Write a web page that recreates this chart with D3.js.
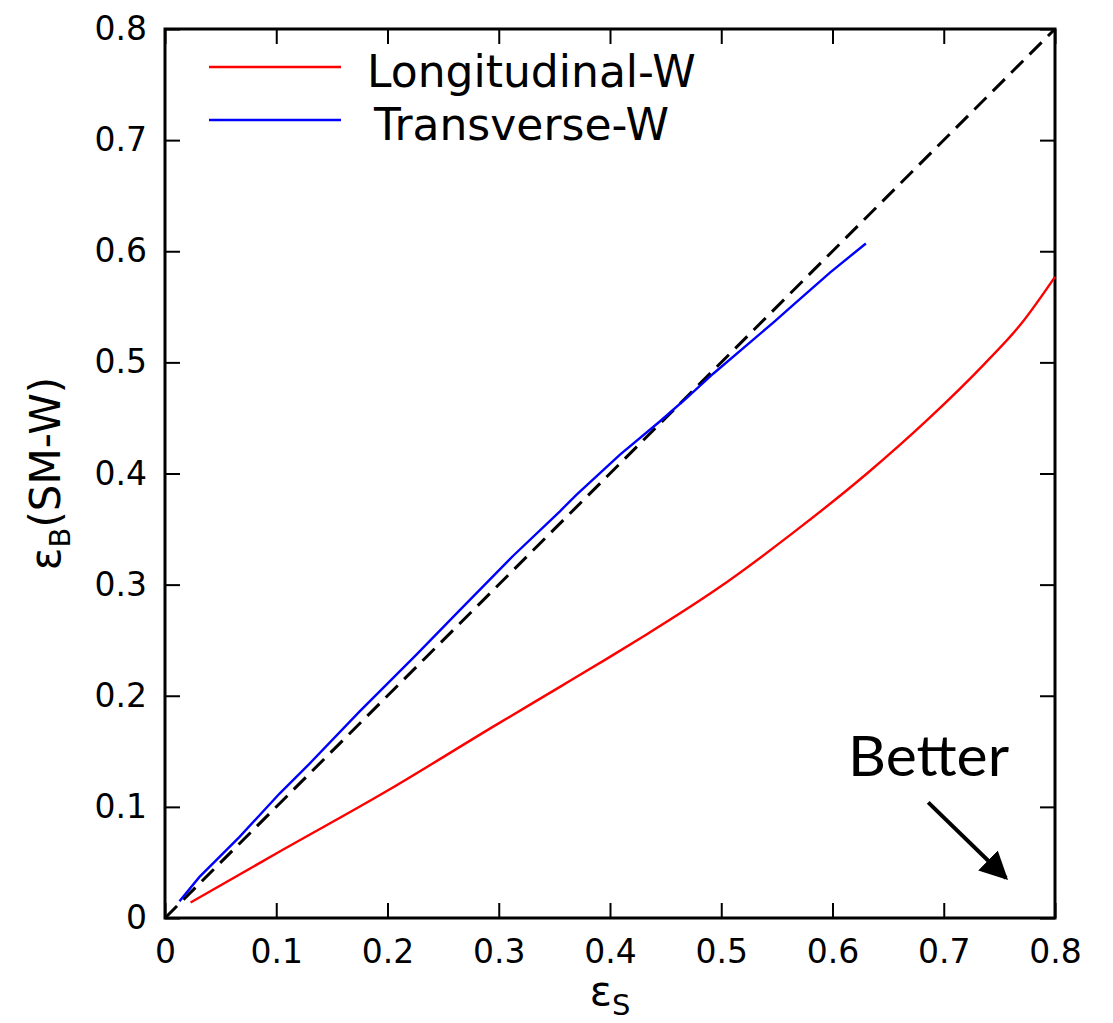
<!DOCTYPE html>
<html>
<head>
<meta charset="utf-8">
<script src="https://cdn.jsdelivr.net/npm/d3@7"></script>
<style>
  body { margin: 0; background: #fff; }
  svg text { font-family: "DejaVu Sans", sans-serif; fill: #000; }
</style>
</head>
<body>
<div id="chart"></div>
<script>
// values (signal eff. vs background eff.)
var longX = [0.023, 0.100, 0.199, 0.298, 0.355, 0.400, 0.431, 0.496, 0.565, 0.631, 0.685, 0.736, 0.769, 0.800];
var longY = [0.014, 0.058, 0.114, 0.174, 0.208, 0.235, 0.254, 0.296, 0.347, 0.400, 0.448, 0.498, 0.534, 0.577];

var transX = [0.013, 0.031, 0.067, 0.103, 0.130, 0.175, 0.226, 0.265, 0.313, 0.355, 0.370, 0.409, 0.445, 0.470, 0.493, 0.547, 0.565, 0.598, 0.630];
var transY = [0.015, 0.037, 0.073, 0.112, 0.139, 0.186, 0.237, 0.277, 0.326, 0.366, 0.381, 0.417, 0.447, 0.469, 0.490, 0.536, 0.552, 0.581, 0.607];

var diagX = [0, 0.8];
var diagY = [0, 0.8];

var tickVals = [0, 0.1, 0.2, 0.3, 0.4, 0.5, 0.6, 0.7, 0.8];
var tickLabels = ["0", "0.1", "0.2", "0.3", "0.4", "0.5", "0.6", "0.7", "0.8"];

var seriesNames = ["Longitudinal-W", "Transverse-W"];
var seriesColors = ["#ff0000", "#0000ff"];

var width = 1113, height = 1023;
var margin = {left: 165, top: 29, right: 58, bottom: 105};
var w = width - margin.left - margin.right;
var h = height - margin.top - margin.bottom;

var svg = d3.select("#chart").append("svg")
    .attr("width", width)
    .attr("height", height);

var g = svg.append("g")
    .attr("transform", "translate(" + margin.left + "," + margin.top + ")");

var x = d3.scaleLinear().domain([0, 0.8]).range([0, w]);
var y = d3.scaleLinear().domain([0, 0.8]).range([h, 0]);

function fmt(d, i) { return tickLabels[i]; }

// axes, ticks pointing inward
g.append("g")
    .attr("transform", "translate(0," + h + ")")
    .call(d3.axisBottom(x).tickValues(tickVals).tickFormat(fmt).tickSize(-15).tickPadding(22));
g.append("g")
    .call(d3.axisLeft(y).tickValues(tickVals).tickFormat(fmt).tickSize(-15).tickPadding(18));
g.append("g")
    .call(d3.axisTop(x).tickValues(tickVals).tickFormat("").tickSize(-15));
g.append("g")
    .attr("transform", "translate(" + w + ",0)")
    .call(d3.axisRight(y).tickValues(tickVals).tickFormat("").tickSize(-15));

g.selectAll(".domain").remove();
g.selectAll(".tick line").attr("stroke", "#000").attr("stroke-width", 2);
g.selectAll(".tick text").attr("font-size", 33).attr("font-family", "DejaVu Sans, sans-serif");

// frame
g.append("rect")
    .attr("x", 0).attr("y", 0)
    .attr("width", w).attr("height", h)
    .attr("fill", "none")
    .attr("stroke", "#000")
    .attr("stroke-width", 3);

var line = d3.line()
    .x(function(d) { return x(d[0]); })
    .y(function(d) { return y(d[1]); });

var smooth = d3.line()
    .curve(d3.curveMonotoneX)
    .x(function(d) { return x(d[0]); })
    .y(function(d) { return y(d[1]); });

// diagonal reference
g.append("path")
    .datum(d3.zip(diagX, diagY))
    .attr("d", line)
    .attr("fill", "none")
    .attr("stroke", "#000")
    .attr("stroke-width", 3)
    .attr("stroke-dasharray", "17,9");

g.append("path")
    .datum(d3.zip(longX, longY))
    .attr("d", smooth)
    .attr("fill", "none")
    .attr("stroke", seriesColors[0])
    .attr("stroke-width", 2.4);

g.append("path")
    .datum(d3.zip(transX, transY))
    .attr("d", line)
    .attr("fill", "none")
    .attr("stroke", seriesColors[1])
    .attr("stroke-width", 2.4);

// legend
var legend = svg.append("g");
var legendY = [67, 120];
var legendTextX = [367, 374];
seriesNames.forEach(function(name, i) {
  legend.append("line")
      .attr("x1", 209).attr("x2", 341)
      .attr("y1", legendY[i]).attr("y2", legendY[i])
      .attr("stroke", seriesColors[i])
      .attr("stroke-width", 2.5);
  legend.append("text")
      .attr("x", legendTextX[i])
      .attr("y", legendY[i] + 20)
      .attr("font-size", 44)
      .text(name);
});

// axis titles
var xt = svg.append("text")
    .attr("x", margin.left + w / 2)
    .attr("y", 1005)
    .attr("text-anchor", "middle")
    .attr("font-size", 41);
xt.append("tspan").text("ε");
xt.append("tspan").attr("font-size", 29).attr("dy", 10).text("S");

var yt = svg.append("text")
    .attr("transform", "translate(60," + (margin.top + h / 2) + ") rotate(-90)")
    .attr("text-anchor", "middle")
    .attr("font-size", 42);
yt.append("tspan").text("ε");
yt.append("tspan").attr("font-size", 29).attr("dy", 10).text("B");
yt.append("tspan").attr("dy", -10).text("(SM-W)");

// "Better" annotation
g.append("text")
    .attr("x", x(0.614))
    .attr("y", y(0.128))
    .attr("font-size", 56)
    .attr("textLength", 161)
    .attr("lengthAdjust", "spacingAndGlyphs")
    .style("font-family", "Lato, sans-serif")
    .text("Better");

svg.append("defs").append("marker")
    .attr("id", "head")
    .attr("viewBox", "0 0 10 10")
    .attr("refX", 9).attr("refY", 5)
    .attr("markerWidth", 7).attr("markerHeight", 7)
    .attr("markerUnits", "strokeWidth")
    .attr("orient", "auto")
  .append("path")
    .attr("d", "M0,0 L10,5 L0,10 Z")
    .attr("fill", "#000");

g.append("line")
    .attr("x1", x(0.686)).attr("y1", y(0.104))
    .attr("x2", x(0.756)).attr("y2", y(0.036))
    .attr("stroke", "#000")
    .attr("stroke-width", 4)
    .attr("marker-end", "url(#head)");
</script>
</body>
</html>
